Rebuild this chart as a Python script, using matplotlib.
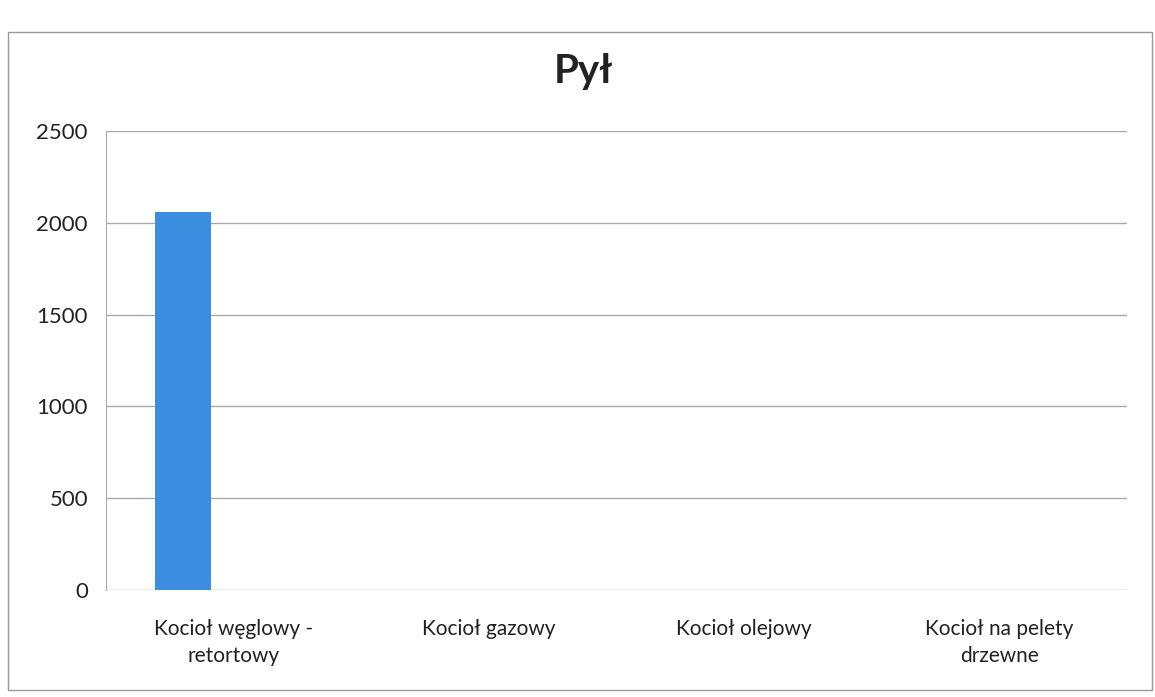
import numpy as np
import matplotlib.pyplot as plt
from matplotlib.patches import Rectangle

# --- Data ---
categories = ['Kocioł węglowy -\nretortowy', 'Kocioł gazowy',
              'Kocioł olejowy', 'Kocioł na pelety\ndrzewne']
dust = [2060, 0, 0, 0]
y_ticks = [0, 500, 1000, 1500, 2000, 2500]

plt.rcParams['font.family'] = ['Lato', 'DejaVu Sans']

fig = plt.figure(figsize=(11.55, 6.97), dpi=100)
ax = fig.add_axes([0.0918, 0.1535, 0.884, 0.6585])

x = np.arange(len(categories))
ax.bar(x - 0.2, dust, width=0.22, color='#3b8de0', zorder=3)

ax.set_xlim(-0.5, len(categories) - 0.5)
ax.set_ylim(0, 2500)
ax.set_yticks(y_ticks)
ax.set_yticklabels([str(v) for v in y_ticks], fontsize=16, color='#222222')
ax.set_xticks(x)
ax.set_xticklabels(categories, fontsize=15, color='#222222', linespacing=1.45)
ax.tick_params(axis='both', length=0)
ax.tick_params(axis='y', pad=13)
ax.tick_params(axis='x', pad=21)

ax.grid(axis='y', color='#aaaaaa', linewidth=1, zorder=0)
for s in ['top', 'right', 'bottom']:
    ax.spines[s].set_visible(False)
ax.spines['left'].set_color('#aaaaaa')

fig.text(0.505, 0.897, 'Pył', fontsize=29, fontweight='bold',
         ha='center', va='center', color='#222222')

# outer chart frame
fig.patches.append(Rectangle((8 / 1155, 1 - 690 / 697), 1144 / 1155, 658 / 697,
                             transform=fig.transFigure, fill=False,
                             edgecolor='#999999', linewidth=1))

fig.savefig('out.png', dpi=100)
